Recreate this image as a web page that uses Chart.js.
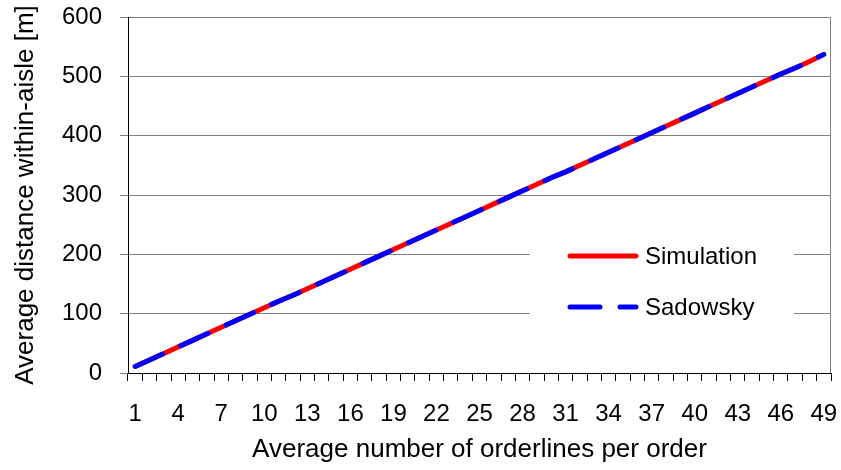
<!DOCTYPE html>
<html>
<head>
<meta charset="utf-8">
<script src="https://cdn.jsdelivr.net/npm/chart.js@4/dist/chart.umd.min.js"></script>
<style>
  html, body { margin: 0; padding: 0; background: #fff; }
  #wrap { width: 841px; height: 470px; }
</style>
</head>
<body>
<div id="wrap"><canvas id="myChart"></canvas></div>
<script>
var orderlines = [];
for (let i = 1; i <= 49; i++) orderlines.push(String(i));

var simulation = [11, 22, 33, 44, 55, 66, 77, 88, 99, 110,
  121, 131, 142, 153, 164, 175, 186, 197, 208, 219,
  230, 241, 252, 263, 274, 285, 296, 307, 318, 329,
  339, 350, 361, 372, 383, 394, 405, 416, 427, 438,
  449, 460, 471, 482, 493, 504, 514, 525, 537];

var sadowsky = [11, 22, 33, 44, 55, 66, 77, 88, 99, 110,
  121, 131, 142, 153, 164, 175, 186, 197, 208, 219,
  230, 241, 252, 263, 274, 285, 296, 307, 318, 329,
  339, 350, 361, 372, 383, 394, 405, 416, 427, 438,
  449, 460, 471, 482, 493, 504, 514, 525, 537];

var yTicks = [0, 100, 200, 300, 400, 500, 600];

var FONT = "'Liberation Sans', Arial, sans-serif";

// legend inside the plot + right border
var boxLegend = {
  id: 'boxLegend',
  afterDatasetsDraw: function (chart) {
    var ctx = chart.ctx;
    var a = chart.chartArea;
    ctx.save();
    ctx.strokeStyle = '#808080';
    ctx.lineWidth = 1;
    ctx.beginPath();
    ctx.moveTo(a.right - 0.5, a.top);
    ctx.lineTo(a.right - 0.5, a.bottom);
    ctx.stroke();

    ctx.fillStyle = '#fff';
    ctx.fillRect(530, 222, 264, 118);

    var rows = [chart.data.datasets[0], chart.data.datasets[1]];
    var ys = [256, 307];
    for (let i = 0; i < rows.length; i++) {
      var ds = rows[i];
      ctx.strokeStyle = ds.borderColor;
      ctx.lineWidth = 5;
      ctx.lineCap = 'round';
      ctx.setLineDash(ds.borderDash || []);
      ctx.beginPath();
      ctx.moveTo(570, ys[i]);
      ctx.lineTo(636, ys[i]);
      ctx.stroke();
      ctx.setLineDash([]);
      ctx.fillStyle = '#000';
      ctx.font = '24px ' + FONT;
      ctx.textBaseline = 'middle';
      ctx.fillText(ds.label, 645, ys[i] + 1);
    }
    ctx.restore();
  }
};

new Chart('myChart', {
  type: 'line',
  data: {
    labels: orderlines,
    datasets: [{
      label: 'Simulation',
      data: simulation,
      borderColor: '#ff0000',
      borderWidth: 5,
      pointRadius: 0,
      tension: 0,
      fill: false,
      order: 2
    }, {
      label: 'Sadowsky',
      data: sadowsky,
      borderColor: '#0000ff',
      borderWidth: 5,
      borderDash: [30, 20],
      borderCapStyle: 'round',
      pointRadius: 0,
      tension: 0,
      fill: false,
      order: 1
    }]
  },
  plugins: [boxLegend],
  options: {
    responsive: true,
    maintainAspectRatio: false,
    animation: false,
    layout: { padding: { top: 17, right: 10, left: 0, bottom: 0 } },
    plugins: {
      legend: { display: false },
      tooltip: { enabled: false }
    },
    scales: {
      x: {
        offset: true,
        afterFit: function (s) {
          s.height = 97;
          s.paddingLeft = 0;
          s.paddingRight = 0;
        },
        grid: {
          offset: true,
          drawOnChartArea: false,
          drawTicks: true,
          tickLength: 8,
          color: '#000'
        },
        border: { color: '#000', width: 1 },
        ticks: {
          autoSkip: false,
          maxRotation: 0,
          padding: 19,
          color: '#000',
          font: { family: FONT, size: 24 },
          callback: function (value, index) {
            return index % 3 === 0 ? orderlines[index] : '';
          }
        },
        title: {
          display: true,
          text: 'Average number of orderlines per order',
          color: '#000',
          font: { family: FONT, size: 26 },
          padding: { top: 0, bottom: 5 }
        }
      },
      y: {
        min: 0,
        max: 600,
        afterFit: function (s) {
          s.width = 128;
          s.paddingTop = 0;
          s.paddingBottom = 0;
        },
        afterBuildTicks: function (s) {
          s.ticks = yTicks.map(function (v) { return { value: v }; });
        },
        grid: {
          color: '#808080',
          tickLength: 8
        },
        border: { color: '#000', width: 1 },
        ticks: {
          padding: 18,
          color: '#000',
          font: { family: FONT, size: 24 }
        },
        title: {
          display: true,
          text: 'Average distance within-aisle [m]',
          color: '#000',
          font: { family: FONT, size: 26 },
          padding: { top: 10, bottom: 0 }
        }
      }
    }
  }
});
</script>
</body>
</html>
